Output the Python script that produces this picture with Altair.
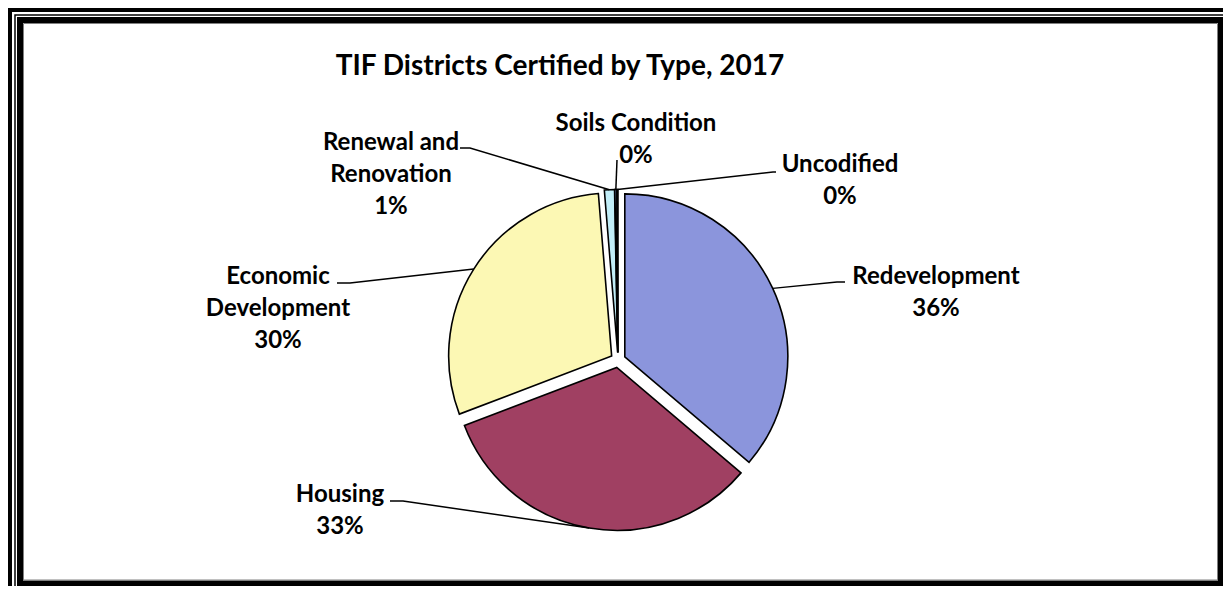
import math
import altair as alt
import pandas as pd

# ---------------- data ----------------
categories = ["Redevelopment", "Housing", "Economic Development",
              "Renewal and Renovation", "Soils Condition", "Uncodified"]
label_text = ["Redevelopment", "Housing", "Economic\nDevelopment",
              "Renewal and\nRenovation", "Soils Condition", "Uncodified"]
shares = [36.2, 33.0, 29.5, 1.0, 0.2, 0.1]
colors = ["#8B95DC", "#A04062", "#FCF8B4", "#C2EEF8", "#7F9FD8", "#4F6228"]
title_text = "TIF Districts Certified by Type, 2017"

# ---------------- layout (pixels) ----------------
W, H = 1215, 578
CX, CY, R, EXPLODE = 610, 352, 163, 7.5
label_x = [928, 332, 270, 383, 628, 832]
label_y = [269, 487, 269, 135, 116, 157]      # centre of first text line
elbow_x = [829, 395, 342, 462, 609, 765]
elbow_y = [274, 493, 275, 140, 152, 164]
end_x = [837, 382, 329, 452, 609, 768]
end_y = [274, 493, 275, 140, 152, 164]
FONT = "Lato"

# ---------------- derived tables ----------------
total = sum(shares)
rows, lines, labels = [], [], []
acc = 0.0
for i, (cat, v) in enumerate(zip(categories, shares)):
    t0 = acc / total * 2 * math.pi
    acc += v
    t1 = acc / total * 2 * math.pi
    mid = (t0 + t1) / 2
    rows.append(dict(name=cat, t0=t0, t1=t1,
                     cx=CX + EXPLODE * math.sin(mid),
                     cy=CY - EXPLODE * math.cos(mid)))
    ax = CX + (R + EXPLODE) * math.sin(mid)
    ay = CY - (R + EXPLODE) * math.cos(mid)
    for k, (px, py) in enumerate([(ax, ay), (elbow_x[i], elbow_y[i]), (end_x[i], end_y[i])]):
        lines.append(dict(name=cat, seq=k, px=px, py=py))
    pct = f"{round(v / total * 100):.0f}%"
    labels.append(dict(name=cat, txt=label_text[i] + "\n" + pct, lx=label_x[i], ly=label_y[i]))

slices = pd.DataFrame(rows)
leaders = pd.DataFrame(lines)
labs = pd.DataFrame(labels)
one = pd.DataFrame({"k": [0]})

# ---------------- frame ----------------
outer = alt.Chart(one).mark_rect(fill=None, stroke="black", strokeWidth=8).encode(
    x=alt.value(0), x2=alt.value(1223), y=alt.value(0), y2=alt.value(590))
thin = alt.Chart(one).mark_rect(fill=None, stroke="black", strokeWidth=1.5).encode(
    x=alt.value(7), x2=alt.value(1218), y=alt.value(7), y2=alt.value(582))
inner = alt.Chart(one).mark_rect(fill=None, stroke="black", strokeWidth=6).encode(
    x=alt.value(12), x2=alt.value(1213), y=alt.value(12), y2=alt.value(575.5))
shadow = alt.Chart(one).mark_rect(fill=None, stroke="#808080", strokeWidth=1).encode(
    x=alt.value(15.5), x2=alt.value(1209.5), y=alt.value(15.5), y2=alt.value(572))

# ---------------- pie ----------------
arcs = alt.Chart(slices).mark_arc(outerRadius=R, stroke="black", strokeWidth=1.6).encode(
    theta=alt.Theta("t0:Q", scale=None),
    theta2="t1:Q",
    x=alt.X("cx:Q", scale=None),
    y=alt.Y("cy:Q", scale=None),
    color=alt.Color("name:N", scale=alt.Scale(domain=categories, range=colors), legend=None),
)

lead = alt.Chart(leaders).mark_line(color="black", strokeWidth=1.5).encode(
    x=alt.X("px:Q", scale=None),
    y=alt.Y("py:Q", scale=None),
    detail="name:N",
    order="seq:Q",
)

text = alt.Chart(labs).mark_text(font=FONT, fontWeight="bold", fontSize=24, lineBreak="\n",
                                 lineHeight=32, align="center", baseline="middle",
                                 color="black").encode(
    x=alt.X("lx:Q", scale=None),
    y=alt.Y("ly:Q", scale=None),
    text="txt:N",
)

title = alt.Chart(one).mark_text(font=FONT, fontWeight="bold", fontSize=28, align="center",
                                 baseline="middle", color="black", text=title_text).encode(
    x=alt.value(552), y=alt.value(59))

chart = alt.layer(outer, thin, inner, shadow, arcs, lead, text, title).properties(
    width=W, height=H, autosize="none", padding=0, background="white"
).configure_view(stroke=None)

chart.save("out.html", embed_options={"renderer": "svg", "actions": False})
